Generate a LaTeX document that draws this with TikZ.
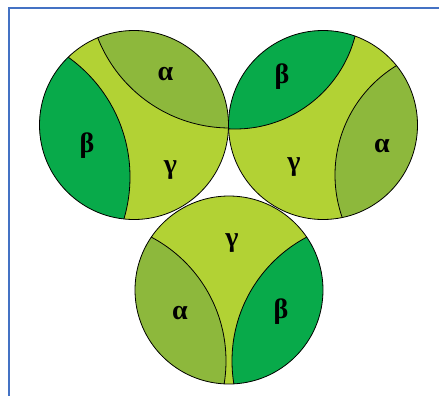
\documentclass[tikz,border=0pt]{standalone}
\usepackage{fontspec}
\setmainfont{Liberation Serif}
\definecolor{gam}{RGB}{178,210,52}
\definecolor{alp}{RGB}{141,184,60}
\definecolor{bet}{RGB}{8,170,74}
\definecolor{framec}{RGB}{68,114,196}
\begin{document}
\begin{tikzpicture}[x=1pt,y=-1pt,
  edge/.style={draw=black,line width=0.8pt},
  lbl/.style={font=\fontsize{28}{30}\selectfont\bfseries,inner sep=0pt}]
\useasboundingbox (0,0) rectangle (439,396);
% frame
\coordinate (fa) at (9,396);
\coordinate (fb) at (9,8.3);
\coordinate (fc) at (439,8.3);
\draw[framec,line width=1.8pt] (fa) -- (fb) -- (fc);
% left cell
\begin{scope}
  \clip (134,125) circle[radius=94.5pt];
  \fill[gam] (134,125) circle[radius=94.5pt];
  \path[edge,fill=alp] (230,-14) circle[radius=142pt];
  \path[edge,fill=bet] (-17,177) circle[radius=147pt];
\end{scope}
\draw[edge] (134,125) circle[radius=94.5pt];
% right cell
\begin{scope}
  \clip (323,125) circle[radius=94.5pt];
  \fill[gam] (323,125) circle[radius=94.5pt];
  \path[edge,fill=bet] (235,5) circle[radius=124pt];
  \path[edge,fill=alp] (463,175) circle[radius=128pt];
\end{scope}
\draw[edge] (323,125) circle[radius=94.5pt];
% bottom cell
\begin{scope}
  \clip (229,290) circle[radius=94pt];
  \fill[gam] (229,290) circle[radius=94pt];
  \path[edge,fill=alp] (86,361) circle[radius=140pt];
  \path[edge,fill=bet] (372,361) circle[radius=140pt];
\end{scope}
\draw[edge] (229,290) circle[radius=94pt];
% labels
\node[lbl] (la) at (165.5,74.5) {α};
\node[lbl] (lb) at (87,145.5) {β};
\node[lbl] (lg) at (170.5,170) {γ};
\node[lbl] (rb) at (282,77) {β};
\node[lbl] (ra) at (382,146) {α};
\node[lbl] (rg) at (294,167) {γ};
\node[lbl] (bg) at (232,243) {γ};
\node[lbl] (ba) at (180,313) {α};
\node[lbl] (bb) at (281,312) {β};
\end{tikzpicture}
\end{document}
